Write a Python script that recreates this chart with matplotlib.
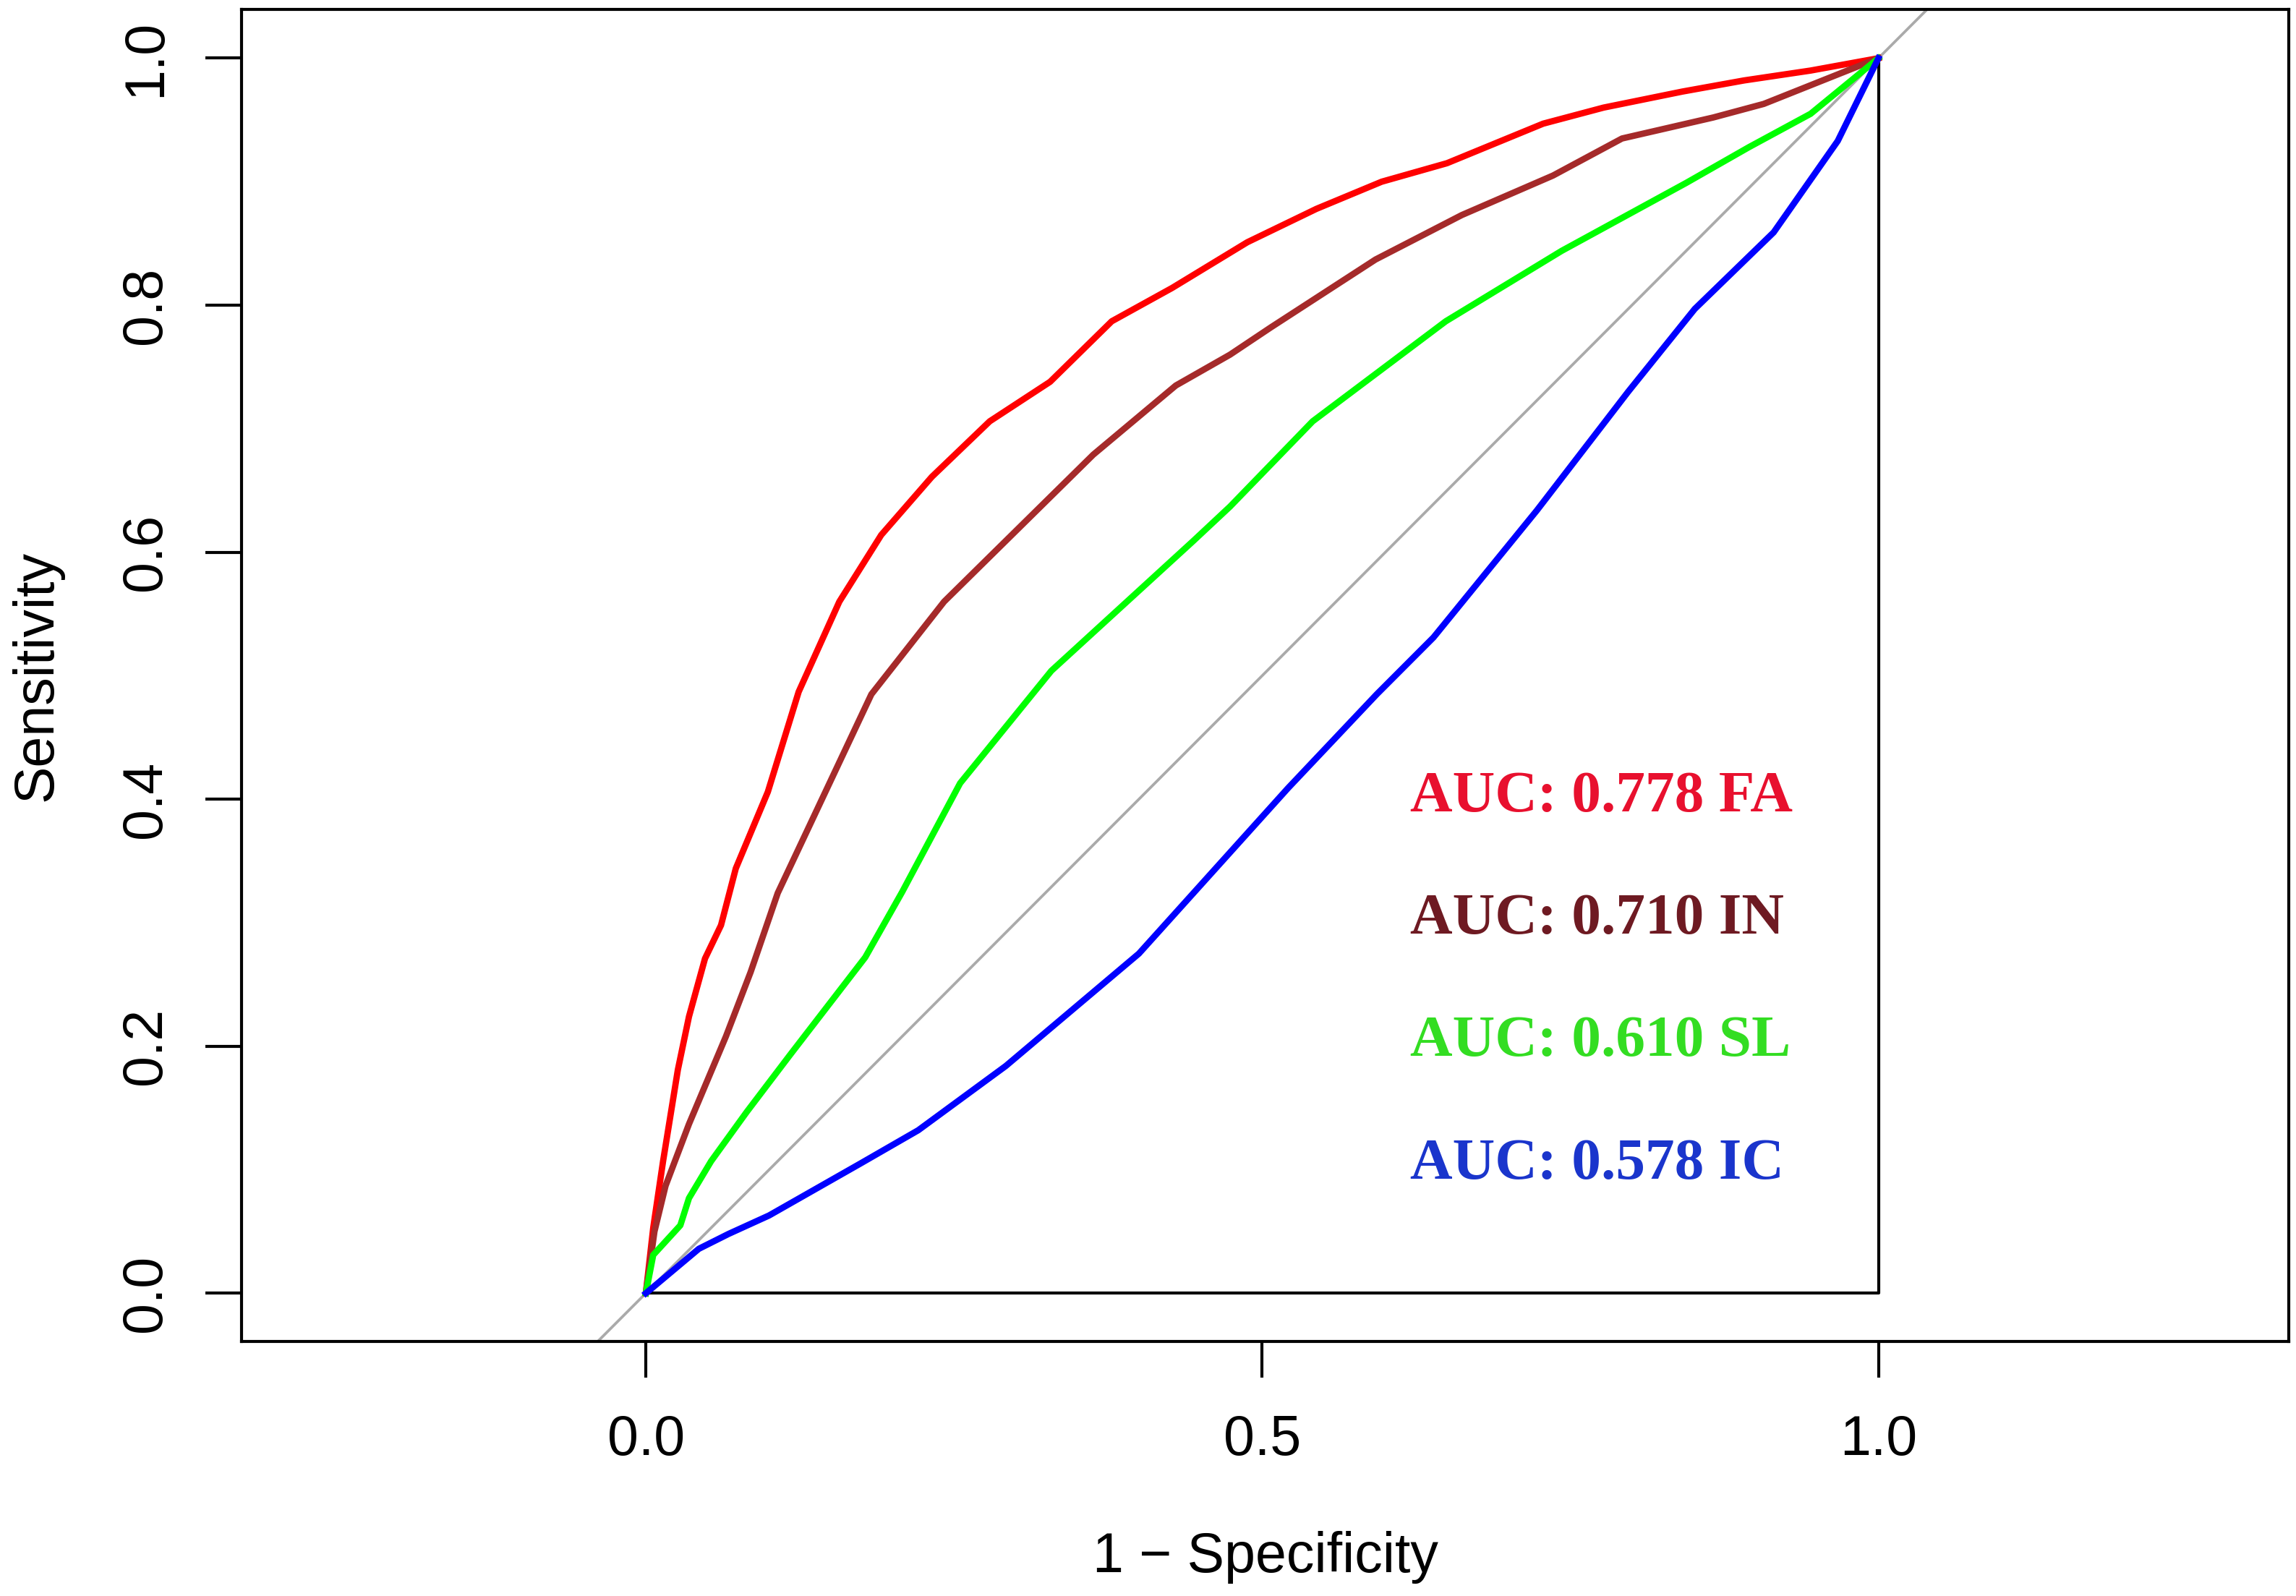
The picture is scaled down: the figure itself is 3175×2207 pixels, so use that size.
import matplotlib
matplotlib.use("Agg")
import matplotlib.pyplot as plt

# ROC curve points (1 - specificity, sensitivity)
fa_x = [0, 0.006, 0.014, 0.026, 0.035, 0.048, 0.061, 0.073, 0.099, 0.124, 0.157, 0.191,
        0.232, 0.279, 0.328, 0.378, 0.427, 0.488, 0.544, 0.597, 0.650, 0.728, 0.777,
        0.841, 0.891, 0.945, 1.0]
fa_y = [0, 0.053, 0.107, 0.181, 0.224, 0.271, 0.298, 0.344, 0.406, 0.487, 0.560, 0.614,
        0.661, 0.706, 0.738, 0.787, 0.814, 0.851, 0.878, 0.900, 0.915, 0.947, 0.960,
        0.973, 0.982, 0.990, 1.0]

in_x = [0, 0.007, 0.016, 0.035, 0.065, 0.085, 0.107, 0.183, 0.242, 0.363, 0.430, 0.474,
        0.507, 0.592, 0.662, 0.736, 0.792, 0.866, 0.907, 1.0]
in_y = [0, 0.050, 0.087, 0.137, 0.208, 0.260, 0.324, 0.485, 0.560, 0.679, 0.735, 0.760,
        0.782, 0.837, 0.873, 0.905, 0.935, 0.952, 0.963, 1.0]

sl_x = [0, 0.006, 0.028, 0.035, 0.053, 0.082, 0.117, 0.178, 0.208, 0.255, 0.329, 0.444,
        0.474, 0.541, 0.649, 0.743, 0.844, 0.895, 0.945, 1.0]
sl_y = [0, 0.031, 0.055, 0.077, 0.107, 0.147, 0.193, 0.272, 0.325, 0.413, 0.504, 0.609,
        0.637, 0.706, 0.787, 0.844, 0.899, 0.928, 0.955, 1.0]

ic_x = [0, 0.043, 0.067, 0.100, 0.174, 0.221, 0.292, 0.400, 0.521, 0.593, 0.639, 0.723,
        0.797, 0.851, 0.915, 0.967, 1.0]
ic_y = [0, 0.036, 0.048, 0.063, 0.105, 0.132, 0.184, 0.275, 0.409, 0.485, 0.531, 0.634,
        0.730, 0.797, 0.859, 0.933, 1.0]

labels = ["AUC: 0.778 FA", "AUC: 0.710 IN", "AUC: 0.610 SL", "AUC: 0.578 IC"]
label_y = [0.390, 0.291, 0.192, 0.093]
line_cols = ["#FF0000", "#A52A2A", "#00FF00", "#0000FF"]
text_cols = ["#E8102E", "#6E1A22", "#33DD22", "#1A35CC"]

plt.rcParams["font.family"] = ["Liberation Sans", "DejaVu Sans"]

fig = plt.figure(figsize=(3175 / 300, 2207 / 300), dpi=300)
ax = fig.add_axes([0.1052, 0.1595, 0.8917, 0.8346])

ax.axline((0, 0), (1, 1), color="#AAAAAA", lw=0.9, zorder=1)
ax.plot([0, 1, 1], [0, 0, 1], color="black", lw=1.0, zorder=2)

curves = [(fa_x, fa_y), (in_x, in_y), (sl_x, sl_y), (ic_x, ic_y)]
for (xs, ys), c in zip(curves, line_cols):
    ax.plot(xs, ys, color=c, lw=2.1, zorder=3)

for txt, ty, c in zip(labels, label_y, text_cols):
    ax.text(0.620, ty, txt, color=c, fontsize=19.5, fontweight="bold",
            family=["Liberation Serif", "DejaVu Serif"], va="baseline", ha="left")

ax.set_xlim(-0.328, 1.333)
ax.set_ylim(-0.039, 1.0395)
ax.set_xticks([0.0, 0.5, 1.0])
ax.set_xticklabels(["0.0", "0.5", "1.0"])
ax.set_yticks([0.0, 0.2, 0.4, 0.6, 0.8, 1.0])
ax.set_yticklabels(["0.0", "0.2", "0.4", "0.6", "0.8", "1.0"], rotation=90, va="center")

for s in ax.spines.values():
    s.set_linewidth(1.0)
ax.tick_params(axis="both", direction="out", length=12, width=1.0, labelsize=18.5)
ax.tick_params(axis="y", pad=11)
ax.tick_params(axis="x", pad=12)

ax.set_xlabel("1 \u2212 Specificity", fontsize=18.5, va="center")
ax.xaxis.set_label_coords(0.5, -0.162)
ax.set_ylabel("Sensitivity", fontsize=18.5, va="center", ha="center")
ax.yaxis.set_label_coords(-0.100, 0.5)

fig.savefig("out.png", dpi=300)
